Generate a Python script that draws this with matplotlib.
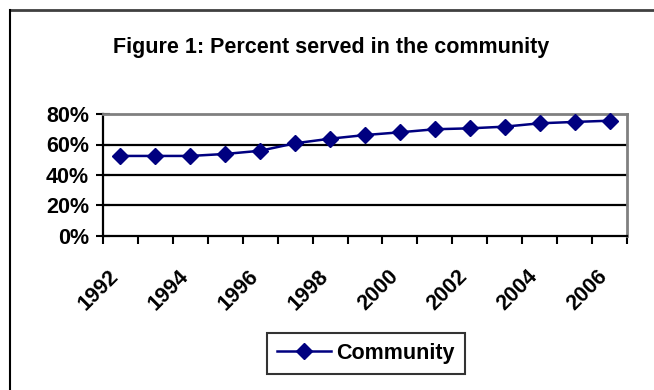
import matplotlib
matplotlib.use("Agg")
import matplotlib.pyplot as plt
from matplotlib.lines import Line2D
from matplotlib.transforms import ScaledTranslation

years = ["1992", "1993", "1994", "1995", "1996", "1997", "1998", "1999",
         "2000", "2001", "2002", "2003", "2004", "2005", "2006"]
community = [52.5, 52.5, 52.5, 53.8, 55.9, 60.8, 63.8, 66.2,
             68.0, 70.0, 70.6, 71.7, 73.9, 74.8, 75.6]
y_ticks = [0, 20, 40, 60, 80]
y_labels = ["0%", "20%", "40%", "60%", "80%"]

plt.rcParams["font.family"] = ["Liberation Sans", "DejaVu Sans"]
plt.rcParams["font.weight"] = "bold"

fig = plt.figure(figsize=(6.54, 3.9), dpi=100)
ax = fig.add_axes([103 / 654, 1 - 236 / 390, (627 - 103) / 654, (236 - 114) / 390])

x = list(range(len(years)))
ax.plot(x, community, color="#000080", linewidth=1.8, marker="D",
        markersize=8.5, markeredgecolor="#000080", markerfacecolor="#000080",
        zorder=5, clip_on=False)

ax.set_xlim(-0.5, len(years) - 0.5)
ax.set_ylim(0, 80)

# gridlines
for v in y_ticks[1:-1]:
    ax.axhline(v, color="black", linewidth=1.6, zorder=1)

ax.set_yticks(y_ticks)
ax.set_yticklabels(y_labels, fontsize=15.5, fontweight="bold")
ax.tick_params(axis="y", direction="inout", length=10, width=1.5, pad=5)

# x ticks at category boundaries, labels every other year
ax.set_xticks([i - 0.5 for i in range(len(years) + 1)], minor=True)
ax.set_xticks(x[::2])
ax.set_xticklabels(years[::2], fontsize=15.5, fontweight="bold",
                   rotation=45, ha="right", va="center", rotation_mode="anchor")
ax.tick_params(axis="x", which="major", length=0, pad=27)
ax.tick_params(axis="x", which="minor", direction="out", length=6, width=1.5)
shift = ScaledTranslation(-5 / 100, 0, fig.dpi_scale_trans)
for lbl in ax.get_xticklabels():
    lbl.set_transform(lbl.get_transform() + shift)

for side in ["left", "bottom"]:
    ax.spines[side].set_color("black")
    ax.spines[side].set_linewidth(1.6)
for side in ["top", "right"]:
    ax.spines[side].set_color("#808080")
    ax.spines[side].set_linewidth(2)

fig.text(331 / 654, 1 - 47 / 390, "Figure 1: Percent served in the community",
         ha="center", va="center", fontsize=15.5, fontweight="bold")

handle = Line2D([], [], color="#000080", linewidth=1.8, marker="D",
                markersize=8.5, markerfacecolor="#000080")
leg = fig.legend([handle], ["Community"], loc="center",
                 bbox_to_anchor=(366 / 654, 1 - 353.5 / 390),
                 fontsize=15.5, frameon=True, fancybox=False,
                 handlelength=2.5, borderpad=0.45, handletextpad=0.25)
leg.get_frame().set_edgecolor("black")
leg.get_frame().set_linewidth(1.5)

# outer chart frame (top and left edges)
fig.add_artist(Line2D([10 / 654, 1], [1 - 10 / 390, 1 - 10 / 390],
                      transform=fig.transFigure, color="#404040", linewidth=2))
fig.add_artist(Line2D([10 / 654, 10 / 654], [0, 1 - 10 / 390],
                      transform=fig.transFigure, color="black", linewidth=1.5))

fig.savefig("out.png", dpi=100)
